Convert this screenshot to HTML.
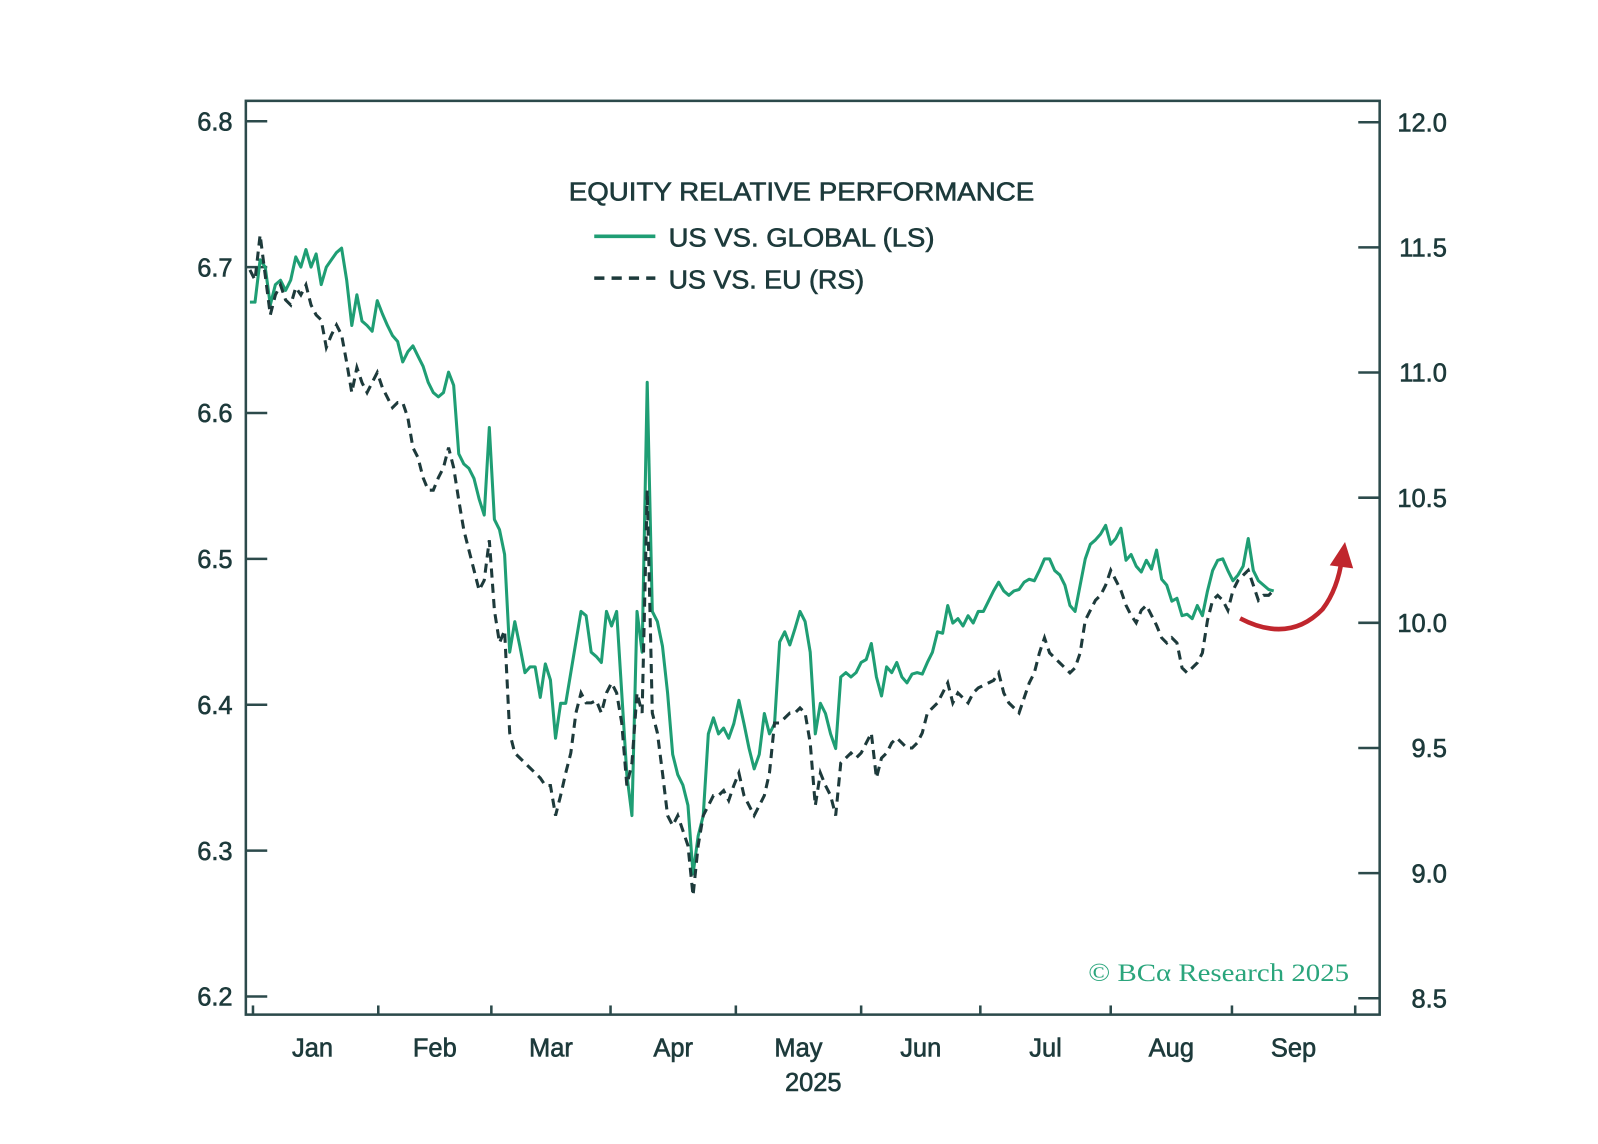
<!DOCTYPE html>
<html><head><meta charset="utf-8"><style>
html,body{margin:0;padding:0;background:#fff;}
svg{display:block;}
text{font-family:"Liberation Sans",sans-serif;fill:#1d3a3b;stroke:#1d3a3b;stroke-width:0.6;}
</style></head><body>
<svg id="chart" width="1598" height="1144" viewBox="0 0 1568 1123" xmlns="http://www.w3.org/2000/svg">
<rect x="0" y="0" width="1568" height="1123" fill="#fff"/>
<g id="axes"></g>
<g id="series"></g>
<text x="558" y="197" font-size="25" textLength="457" lengthAdjust="spacingAndGlyphs">EQUITY RELATIVE PERFORMANCE</text>
<line x1="583" y1="232" x2="643" y2="232" stroke="#1f9e74" stroke-width="3.5"/>
<text x="656" y="242" font-size="25" textLength="261" lengthAdjust="spacingAndGlyphs">US VS. GLOBAL (LS)</text>
<line x1="583" y1="273" x2="643" y2="273" stroke="#1d3a3b" stroke-width="3.5" stroke-dasharray="10,7"/>
<text x="656" y="283" font-size="25" textLength="192" lengthAdjust="spacingAndGlyphs">US VS. EU (RS)</text>
<text x="1068" y="963" font-size="25" textLength="256" lengthAdjust="spacingAndGlyphs" style="font-family:'Liberation Serif',serif;fill:#2aa57c;stroke:none">© BCα Research 2025</text>
<path d="M1217,607 Q1265,632 1298,598 Q1313,578 1317,548" fill="none" stroke="#c0262d" stroke-width="4.5"/>
<polygon points="1305,555 1320,532 1328,558" fill="#c0262d"/>
</svg>
<script>
const leftTicks=[6.2,6.3,6.4,6.5,6.6,6.7,6.8];
const rightTicks=[8.5,9.0,9.5,10.0,10.5,11.0,11.5,12.0];
const months=["Jan","Feb","Mar","Apr","May","Jun","Jul","Aug","Sep"];
const usGlobal=[6.676,6.676,6.705,6.700,6.674,6.688,6.691,6.684,6.691,6.707,6.700,6.712,6.700,6.709,6.688,6.700,6.705,6.710,6.713,6.691,
6.660,6.681,6.663,6.660,6.656,6.677,6.668,6.660,6.653,6.649,6.635,6.642,6.646,6.639,6.632,6.621,6.614,6.611,6.614,6.628,
6.619,6.572,6.565,6.562,6.555,6.541,6.530,6.590,6.527,6.520,6.503,6.436,6.457,6.440,6.422,6.426,6.426,6.405,6.428,6.417,
6.377,6.401,6.401,6.422,6.443,6.464,6.461,6.436,6.433,6.429,6.464,6.454,6.464,6.408,6.352,6.324,6.464,6.436,6.621,6.464,
6.457,6.440,6.408,6.366,6.352,6.345,6.331,6.284,6.310,6.324,6.380,6.391,6.380,6.384,6.377,6.387,6.403,6.387,6.370,6.356,
6.366,6.394,6.380,6.387,6.443,6.450,6.441,6.452,6.464,6.457,6.436,6.380,6.401,6.394,6.380,6.370,6.419,6.422,6.419,6.422,
6.429,6.431,6.442,6.419,6.406,6.426,6.422,6.429,6.419,6.415,6.421,6.422,6.421,6.429,6.436,6.450,6.449,6.468,6.456,6.459,
6.454,6.461,6.456,6.464,6.464,6.471,6.478,6.484,6.478,6.475,6.478,6.479,6.484,6.486,6.485,6.492,6.500,6.500,6.492,6.489,
6.482,6.468,6.464,6.482,6.500,6.510,6.513,6.517,6.523,6.510,6.514,6.521,6.499,6.503,6.495,6.491,6.499,6.493,6.506,6.486,
6.482,6.471,6.473,6.461,6.462,6.459,6.468,6.461,6.478,6.492,6.499,6.500,6.492,6.485,6.489,6.495,6.514,6.492,6.485,6.482,
6.479,6.478];
const usEu=[11.41,11.37,11.55,11.39,11.23,11.31,11.35,11.29,11.27,11.34,11.31,11.35,11.27,11.23,11.21,11.10,11.15,11.19,11.15,11.04,
10.92,11.02,10.96,10.92,10.96,11.00,10.94,10.90,10.86,10.88,10.88,10.82,10.70,10.66,10.58,10.53,10.53,10.58,10.62,10.70,
10.62,10.49,10.37,10.29,10.21,10.13,10.17,10.33,10.05,9.92,9.97,9.56,9.48,9.46,9.44,9.42,9.40,9.38,9.35,9.35,
9.23,9.31,9.40,9.48,9.64,9.72,9.68,9.68,9.69,9.64,9.72,9.76,9.72,9.60,9.35,9.44,9.72,9.64,10.53,9.64,
9.56,9.40,9.23,9.19,9.23,9.17,9.11,8.91,9.11,9.23,9.27,9.31,9.31,9.33,9.29,9.35,9.40,9.31,9.27,9.23,
9.27,9.31,9.40,9.60,9.60,9.62,9.64,9.64,9.66,9.64,9.52,9.27,9.40,9.35,9.31,9.23,9.44,9.46,9.48,9.46,
9.48,9.52,9.56,9.38,9.46,9.48,9.52,9.54,9.52,9.50,9.50,9.52,9.56,9.64,9.66,9.68,9.72,9.76,9.68,9.72,
9.70,9.68,9.72,9.74,9.75,9.76,9.77,9.80,9.72,9.68,9.66,9.64,9.70,9.76,9.80,9.88,9.94,9.88,9.86,9.84,
9.82,9.80,9.82,9.88,10.01,10.05,10.09,10.11,10.15,10.21,10.17,10.13,10.07,10.03,10.00,10.05,10.07,10.03,9.99,9.94,
9.92,9.94,9.92,9.82,9.80,9.82,9.84,9.88,10.01,10.09,10.11,10.09,10.05,10.13,10.17,10.19,10.21,10.15,10.09,10.11,
10.11,10.13];

const NS="http://www.w3.org/2000/svg";
function yL(v){return 119+(6.8-v)*1432;}
function yR(v){return 120+(12-v)*245.7;}
function xI(i){return 245+5*i;}
const monthStart=[248,371,482,599,722,845,962,1090,1209,1330];
function mk(tag,attrs,parent){const e=document.createElementNS(NS,tag);for(const k in attrs)e.setAttribute(k,attrs[k]);parent.appendChild(e);return e;}
const axes=document.getElementById('axes');
const col="#2c4a4b";
const frame=mk('rect',{x:241,y:99,width:1113,height:897,fill:'none',stroke:col,'stroke-width':2.5},axes);


leftTicks.forEach(v=>{
  const y=yL(v);
  const t=mk('line',{x1:241,y1:y,x2:262,y2:y,stroke:col,'stroke-width':2.5},axes);
  
  
  const l=mk('text',{x:228,y:y+9,'font-size':25,'text-anchor':'end'},axes);
  l.textContent=v.toFixed(1);
  
  
});
rightTicks.forEach(v=>{
  const y=yR(v);
  const t=mk('line',{x1:1333,y1:y,x2:1354,y2:y,stroke:col,'stroke-width':2.5},axes);
  
  
  const l=mk('text',{x:1420,y:y+9,'font-size':25,'text-anchor':'end'},axes);
  l.textContent=v.toFixed(1);
  
  
});
monthStart.forEach(x=>{
  const t=mk('line',{x1:x,y1:996,x2:x,y2:987,stroke:col,'stroke-width':2.5},axes);
  
  
});
months.forEach((m,i)=>{
  const cx=(monthStart[i]+monthStart[i+1])/2+(i===0?-3:0);
  const l=mk('text',{x:cx,y:1037,'font-size':25,'text-anchor':'middle'},axes);
  l.textContent=m;
  
  
});
const yr=mk('text',{x:798,y:1071,'font-size':25,'text-anchor':'middle'},axes);
yr.textContent="2025";



const series=document.getElementById('series');
const g=mk('path',{d:usGlobal.map((v,i)=>(i?'L':'M')+xI(i)+','+yL(v).toFixed(1)).join(''),fill:'none',stroke:'#1f9e74','stroke-width':3,'stroke-linejoin':'round'},series);


const e=mk('path',{d:usEu.map((v,i)=>(i?'L':'M')+xI(i)+','+yR(v).toFixed(1)).join(''),fill:'none',stroke:'#1d3a3b','stroke-width':3,'stroke-dasharray':'9,6'},series);


</script>
</body></html>
